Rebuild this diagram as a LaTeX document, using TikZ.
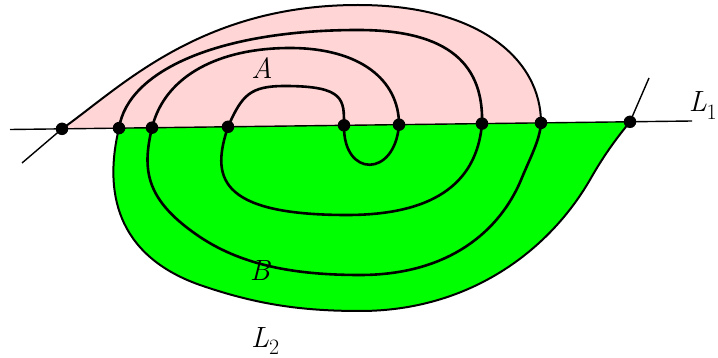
\documentclass[tikz,border=0pt]{standalone}
\usepackage{fontspec}
\definecolor{pinkA}{RGB}{255,213,213}
\definecolor{greenB}{RGB}{0,255,0}
\tikzset{
  dot/.style={circle,fill=black,inner sep=0pt,minimum size=12.5pt},
  arcline/.style={line width=2.6pt,line cap=round},
  outerline/.style={line width=2pt,line cap=round},
  thinline/.style={line width=1.4pt},
  lab/.style={inner sep=0pt,font=\fontsize{24}{28}\selectfont\itshape}
}
\newcommand{\lsub}[1]{\raisebox{-6pt}{\fontsize{18}{22}\selectfont\upshape #1}}
\newcommand{\biglab}[1]{\scalebox{1.22}{#1}}
\begin{document}
\begin{tikzpicture}[x=1pt,y=-1pt]
\useasboundingbox (0,0) rectangle (718,358);
% points on L1
\coordinate (c1) at (62,128.85);
\coordinate (c2) at (119,128.1);
\coordinate (c3) at (152,127.7);
\coordinate (c4) at (228,126.8);
\coordinate (c5) at (344,125.3);
\coordinate (c6) at (399,124.7);
\coordinate (c7) at (482,123.6);
\coordinate (c8) at (541,122.9);
\coordinate (c9) at (630,121.8);
\coordinate (l1a) at (10,129.5);
\coordinate (l1b) at (692,121);
\coordinate (l2a) at (22,163);
\coordinate (l2b) at (649,78);
% fills
\fill[pinkA] (c1) .. controls (120,88) and (200,5) .. (358,5)
  .. controls (480,5) and (541,60) .. (c8) -- cycle;
\fill[greenB] (c2) .. controls (104,190) and (115,255) .. (200,285)
  .. controls (255,304) and (300,311) .. (360,311)
  .. controls (470,311) and (550,250) .. (591,178)
  .. controls (603,157) and (615,140) .. (c9) -- cycle;
% L1 and L2 lines
\draw[thinline] (l1a) -- (l1b);
\draw[thinline] (l2a) -- (c1);
\draw[thinline] (c9) -- (l2b);
% outer boundaries
\draw[outerline] (c1) .. controls (120,88) and (200,5) .. (358,5)
  .. controls (480,5) and (541,60) .. (c8);
\draw[outerline] (c2) .. controls (104,190) and (115,255) .. (200,285)
  .. controls (255,304) and (300,311) .. (360,311)
  .. controls (470,311) and (550,250) .. (591,178)
  .. controls (603,157) and (615,140) .. (c9);
% upper arcs
\draw[arcline] (c2) .. controls (128,70) and (220,30) .. (358,30)
  .. controls (440,30) and (484,58) .. (c7);
\draw[arcline] (c3) .. controls (165,75) and (220,48) .. (290,48)
  .. controls (360,48) and (399,80) .. (c6);
\draw[arcline] (c4) .. controls (242,95) and (250,86) .. (285,86)
  .. controls (345,86) and (344,100) .. (c5);
% lower arcs
\draw[arcline] (c5) .. controls (343,178) and (395,178) .. (c6);
\draw[arcline] (c4) .. controls (212,175) and (215,215) .. (347,215)
  .. controls (450,215) and (478,170) .. (c7);
\draw[arcline] (c3) .. controls (142,170) and (145,200) .. (200,237)
  .. controls (245,267) and (300,275) .. (360,275)
  .. controls (450,275) and (500,230) .. (521,180)
  .. controls (530,158) and (540,140) .. (c8);
% dots
\foreach \i in {1,...,9} { \node[dot] (d\i) at (c\i) {}; }
% labels
\node[lab] (A) at (262,68) {\biglab{A}};
\node[lab] (B) at (260,271) {\biglab{B}};
\node[lab,anchor=base east] (L1) at (717,112) {\biglab{L\lsub{1}}};
\node[lab,anchor=base west] (L2) at (251,347) {\biglab{L\lsub{2}}};
\end{tikzpicture}
\end{document}
